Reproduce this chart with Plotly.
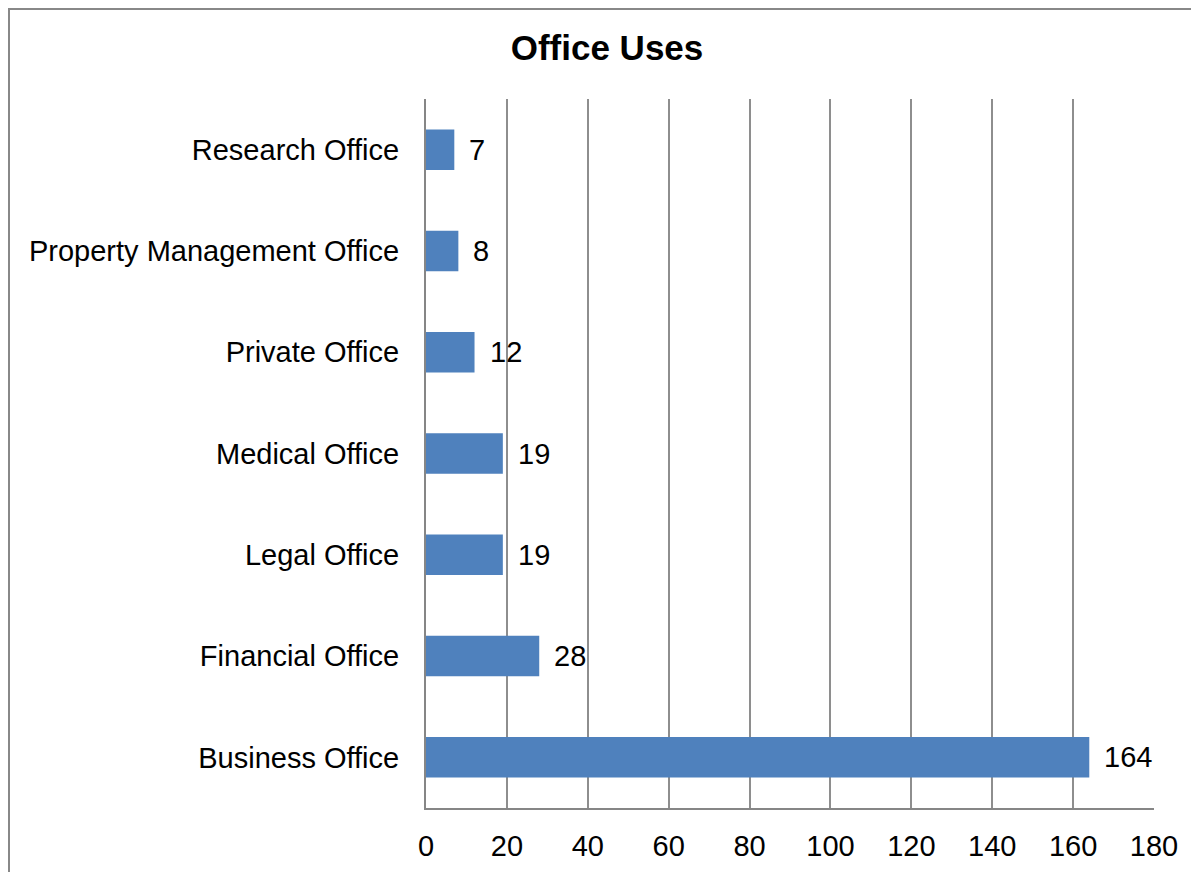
import plotly.graph_objects as go

categories = ["Business Office", "Financial Office", "Legal Office", "Medical Office",
              "Private Office", "Property Management Office", "Research Office"]
values = [164, 28, 19, 19, 12, 8, 7]
x_ticks = [0, 20, 40, 60, 80, 100, 120, 140, 160, 180]

FONT = "Liberation Sans, Arial, sans-serif"
LABEL_SIZE = 29

fig = go.Figure()
fig.add_trace(go.Bar(
    y=categories, x=values, orientation="h",
    marker=dict(color="#4F81BD", line=dict(width=0)),
    hoverinfo="skip",
))

annotations = [
    dict(x=v, y=c, xref="x", yref="y", text=str(v), showarrow=False,
         xanchor="left", yanchor="middle", xshift=13,
         font=dict(family=FONT, size=LABEL_SIZE, color="#000000"))
    for c, v in zip(categories, values)
]

# page body has an 8px default margin, so the figure is drawn 8px smaller
fig.update_layout(
    width=1191, height=864,
    paper_bgcolor="white", plot_bgcolor="white",
    margin=dict(l=418, r=45, t=91, b=64, autoexpand=False),
    bargap=0.6,
    showlegend=False,
    title=dict(text="<b>Office Uses</b>", x=599 / 1191, xref="container", xanchor="center",
               y=1 - 40 / 864, yref="container", yanchor="middle",
               font=dict(family=FONT, size=35, color="#000000")),
    font=dict(family=FONT, size=LABEL_SIZE, color="#000000"),
    xaxis=dict(range=[0, 180], tickvals=x_ticks, showgrid=True, gridcolor="#8e8e8e",
               gridwidth=1.5, zeroline=False, showline=True, linecolor="#868686",
               linewidth=2, ticks="outside", ticklen=11, tickcolor="rgba(0,0,0,0)",
               tickfont=dict(family=FONT, size=LABEL_SIZE, color="#000000"), fixedrange=True),
    yaxis=dict(categoryorder="array", categoryarray=categories, showgrid=False,
               zeroline=False, showline=True, linecolor="#868686", linewidth=2,
               ticks="outside", ticklen=19, tickcolor="rgba(0,0,0,0)",
               tickfont=dict(family=FONT, size=LABEL_SIZE, color="#000000"), fixedrange=True),
    annotations=annotations,
    shapes=[dict(type="rect", xref="paper", yref="paper",
                 x0=-417 / 728, x1=1.2, y0=-0.3, y1=1 + 90 / 709,
                 line=dict(color="#888888", width=2), fillcolor="rgba(0,0,0,0)",
                 layer="below")],
)

fig.write_html("out.html", config={"displayModeBar": False})
